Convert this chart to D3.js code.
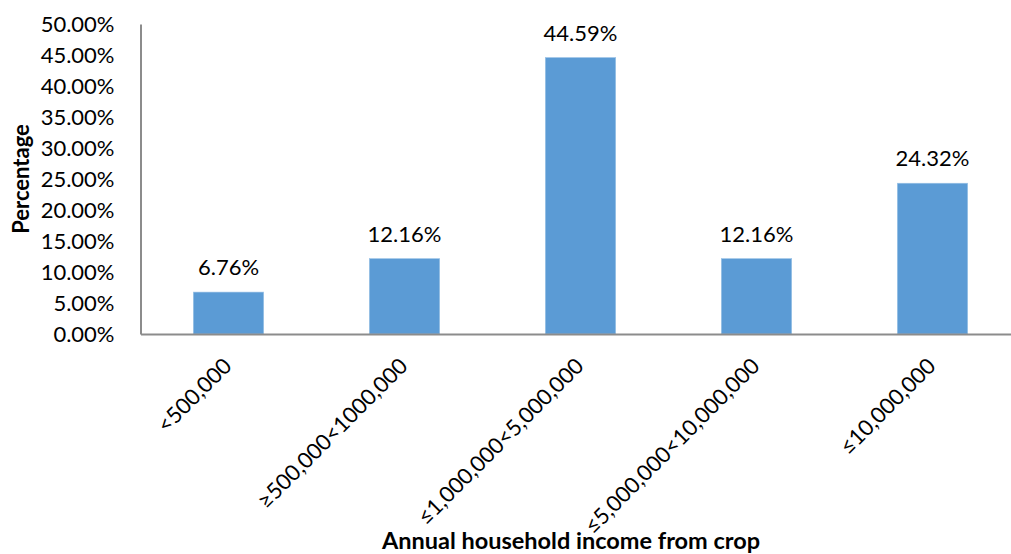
<!DOCTYPE html>
<html><head><meta charset="utf-8">
<script src="https://cdn.jsdelivr.net/npm/d3@7"></script>
<style>
html,body{margin:0;padding:0;background:#fff;}
svg{display:block;}
text{font-family:Lato,"Open Sans",sans-serif;fill:#000;}
</style></head>
<body>
<svg id="chart" width="1011" height="554"></svg>
<script>
const categories = ["<500,000", "≥500,000<1000,000", "≤1,000,000<5,000,000", "≤5,000,000<10,000,000", "≤10,000,000"];
const values = [6.76, 12.16, 44.59, 12.16, 24.32];
const yTicks = [0, 5, 10, 15, 20, 25, 30, 35, 40, 45, 50];
const yTitle = "Percentage";
const xTitle = "Annual household income from crop";

const svg = d3.select("#chart");
const mLeft = 140.5, mRight = 1020.5, mTop = 24, mBottom = 334;
const fs = 22;

const x = d3.scaleBand().domain(categories).range([mLeft, mRight]).paddingInner(0.6).paddingOuter(0.3);
const y = d3.scaleLinear().domain([0, 50]).range([mBottom, mTop]);

// bars
svg.append("g").selectAll("rect").data(values).join("rect")
  .attr("x", (d, i) => x(categories[i]))
  .attr("y", d => y(d))
  .attr("width", x.bandwidth())
  .attr("height", d => mBottom - y(d))
  .attr("fill", "#5B9BD5")
  .attr("stroke", "#9DC3E6")
  .attr("stroke-width", 0.6);

// y axis
const yAxis = d3.axisLeft(y).tickValues(yTicks).tickSize(0).tickPadding(26)
  .tickFormat(d => d.toFixed(2) + "%");
const gy = svg.append("g").attr("transform", `translate(${mLeft},0)`).call(yAxis);
gy.select(".domain").attr("stroke", "#8C8C8C").attr("stroke-width", 2);
gy.selectAll("text").attr("font-size", fs).attr("font-family", "Lato").attr("fill", "#000");

// x axis
const xAxis = d3.axisBottom(x).tickSize(0).tickFormat("");
const gx = svg.append("g").attr("transform", `translate(0,${mBottom})`).call(xAxis);
gx.select(".domain").attr("stroke", "#8C8C8C").attr("stroke-width", 2);

// x labels rotated
svg.append("g").selectAll("text").data(categories).join("text")
  .attr("transform", d => `translate(${x(d) + x.bandwidth() / 2 - 1},${mBottom + 28}) rotate(-45)`)
  .attr("text-anchor", "end")
  .attr("dy", "0.35em")
  .attr("font-size", fs)
  .text(d => d);

// value labels
svg.append("g").selectAll("text").data(values).join("text")
  .attr("x", (d, i) => x(categories[i]) + x.bandwidth() / 2)
  .attr("y", d => y(d) - 17)
  .attr("text-anchor", "middle")
  .attr("font-size", fs)
  .text(d => d.toFixed(2) + "%");

// axis titles
svg.append("text")
  .attr("transform", `translate(29,${(mTop + mBottom) / 2}) rotate(-90)`)
  .attr("text-anchor", "middle")
  .attr("font-size", 22).attr("font-weight", "bold")
  .text(yTitle);

svg.append("text")
  .attr("x", 571).attr("y", 549)
  .attr("text-anchor", "middle")
  .attr("font-size", 23.5).attr("font-weight", "bold")
  .text(xTitle);
</script>
</body></html>
